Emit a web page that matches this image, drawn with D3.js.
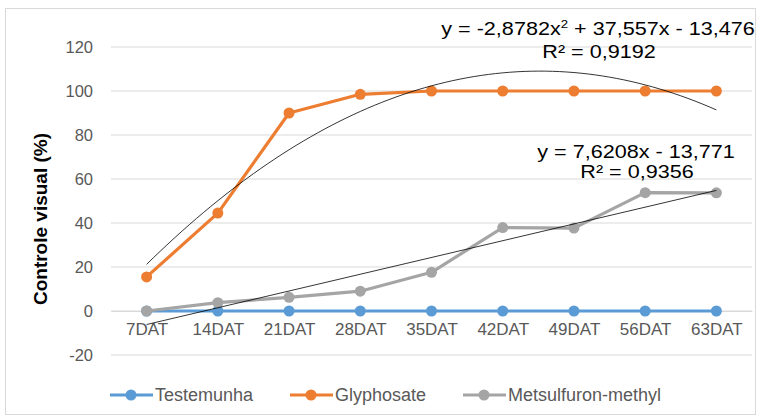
<!DOCTYPE html>
<html><head><meta charset="utf-8">
<script src="https://cdn.jsdelivr.net/npm/d3@7"></script>
<style>body{margin:0;background:#fff}svg{display:block}</style>
</head><body>
<svg id="c" width="761" height="419"></svg>
<script>
const categories = ["7DAT","14DAT","21DAT","28DAT","35DAT","42DAT","49DAT","56DAT","63DAT"];
const testemunha = [0,0,0,0,0,0,0,0,0];
const glyphosate = [15.5,44.5,90,98.5,100,100,100,100,100];
const metsulfuron = [0,3.8,6.2,9,17.6,37.9,37.7,53.8,53.7];
const yTicks = [-20,0,20,40,60,80,100,120];
const polyCoef = [-2.8782, 37.557, -13.476];
const linCoef = [7.6208, -13.771];
const seriesNames = ["Testemunha","Glyphosate","Metsulfuron-methyl"];
const colors = ["#5B9BD5","#ED7D31","#A5A5A5"];
const FONT = "Liberation Sans, Arial, sans-serif";

const svg = d3.select("#c");
svg.append("rect").attr("x",5.5).attr("y",8.5).attr("width",750).attr("height",406)
  .attr("fill","#fff").attr("stroke","#D9D9D9");

const x = d3.scalePoint().domain(categories).range([111,752]).padding(0.5);
const y = d3.scaleLinear().domain([-20,120]).range([355,47]);

// gridlines
svg.append("g").selectAll("line").data(yTicks).join("line")
  .attr("x1",111).attr("x2",752).attr("y1",d=>y(d)).attr("y2",d=>y(d))
  .attr("stroke","#D9D9D9").attr("stroke-width",1);

// y axis labels
const ya = svg.append("g").attr("transform","translate(111,0)")
  .call(d3.axisLeft(y).tickValues(yTicks).tickFormat(d=>String(d)).tickSize(0).tickPadding(18));
ya.select(".domain").remove();
ya.selectAll("text").attr("font-family",FONT).attr("font-size",16.5).attr("fill","#595959");

// x axis labels
const xa = svg.append("g").attr("transform",`translate(0,${y(0)})`)
  .call(d3.axisBottom(x).tickSize(0).tickPadding(12));
xa.select(".domain").attr("stroke","#D9D9D9");
xa.selectAll("text").attr("font-family",FONT).attr("font-size",17).attr("fill","#595959");

// y title
svg.append("text").attr("transform","translate(47,219) rotate(-90)")
  .attr("text-anchor","middle").attr("font-family",FONT)
  .attr("font-weight","bold").attr("font-size",19).attr("fill","#000").text("Controle visual (%)");

const data = [testemunha, glyphosate, metsulfuron];
const line = d3.line().x((d,i)=>x(categories[i])).y(d=>y(d));
data.forEach((s,k)=>{
  svg.append("path").datum(s).attr("d",line).attr("fill","none")
    .attr("stroke",colors[k]).attr("stroke-width",3.2).attr("stroke-linejoin","round");
  svg.append("g").selectAll("circle").data(s).join("circle")
    .attr("cx",(d,i)=>x(categories[i])).attr("cy",d=>y(d)).attr("r",5.5).attr("fill",colors[k]);
});

// trendlines
const xi = d3.scaleLinear().domain([1,categories.length]).range([x(categories[0]), x(categories[categories.length-1])]);
const polyPts = d3.range(1,9.001,0.1).map(t=>[xi(t), y(polyCoef[0]*t*t+polyCoef[1]*t+polyCoef[2])]);
svg.append("path").attr("d",d3.line()(polyPts)).attr("fill","none").attr("stroke","#000").attr("stroke-width",0.8);
const linPts = [1,9].map(t=>[xi(t), y(linCoef[0]*t+linCoef[1])]);
svg.append("path").attr("d",d3.line()(linPts)).attr("fill","none").attr("stroke","#000").attr("stroke-width",0.8);

// equations
function eqText(cx, by, build){
  const g = svg.append("g").attr("transform",`translate(${cx},${by}) scale(1.2,1)`);
  const t = g.append("text").attr("font-family",FONT).attr("font-size",18).attr("fill","#000").attr("text-anchor","middle");
  build(t);
}
eqText(598,35,t=>{
  t.append("tspan").text("y = -2,8782x");
  t.append("tspan").attr("font-size",11).attr("dy",-7).text("2");
  t.append("tspan").attr("dy",7).text(" + 37,557x - 13,476");
});
eqText(599,58,t=>t.text("R² = 0,9192"));
eqText(636,158,t=>t.text("y = 7,6208x - 13,771"));
eqText(637,178,t=>t.text("R² = 0,9356"));

// legend
const legX = [110,290,463];
const lg = svg.append("g");
seriesNames.forEach((n,k)=>{
  lg.append("line").attr("x1",legX[k]).attr("x2",legX[k]+43).attr("y1",395).attr("y2",395)
    .attr("stroke",colors[k]).attr("stroke-width",3);
  lg.append("circle").attr("cx",legX[k]+21).attr("cy",395).attr("r",5.5).attr("fill",colors[k]);
  lg.append("text").attr("x",legX[k]+45).attr("y",401).attr("font-family",FONT)
    .attr("font-size",18).attr("fill","#595959").text(n);
});
</script>
</body></html>
